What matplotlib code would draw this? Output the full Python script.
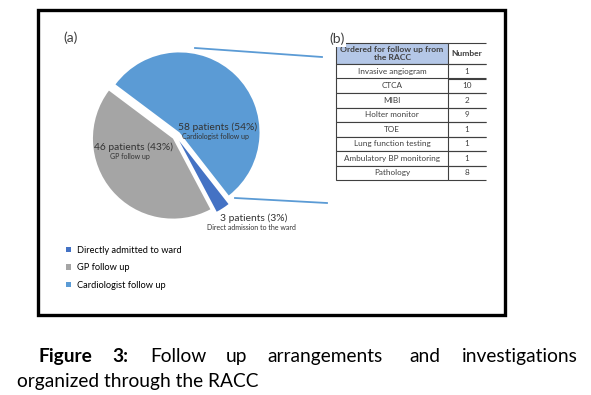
import matplotlib
matplotlib.use('Agg')
import matplotlib.pyplot as plt
from matplotlib.patches import Rectangle

plt.rcParams['font.family'] = ['Lato', 'DejaVu Sans']

# ---------------- data ----------------
legend_labels = ["Directly admitted to ward", "GP follow up", "Cardiologist follow up"]
patients = [3, 46, 58]
percent = [3, 43, 54]
slice_notes = ["Direct admission to the ward", "GP follow up", "Cardiologist follow up"]
slice_colors = ['#4472C4', '#A5A5A5', '#5B9BD5']

table_header = ["Ordered for follow up from\nthe RACC", "Number"]
tests = ["Invasive angiogram", "CTCA", "MIBI", "Holter monitor", "TOE",
         "Lung function testing", "Ambulatory BP monitoring", "Pathology"]
test_counts = [1, 10, 2, 9, 1, 1, 1, 8]

caption_line1 = [("Figure", 'bold'), ("3:", 'bold'), ("Follow", 'normal'), ("up", 'normal'),
                 ("arrangements", 'normal'), ("and", 'normal'), ("investigations", 'normal')]
caption_line2 = "organized through the RACC"

# ---------------- figure ----------------
W, H = 591, 395
fig = plt.figure(figsize=(W / 100, H / 100), dpi=100)
ax = fig.add_axes([0, 0, 1, 1])


def Y(y):
    return H - y


# pie (pixel-like data coordinates)
wedges, _ = ax.pie(patients, colors=slice_colors, startangle=-52, counterclock=False,
                   center=(176, Y(136)), radius=80, explode=[6, 4, 5],
                   wedgeprops=dict(linewidth=0), frame=True)
ax.set_xlim(0, W)
ax.set_ylim(0, H)
ax.set_aspect('equal')
ax.axis('off')

# outer frame
ax.add_patch(Rectangle((38, Y(315)), 505 - 38, 315 - 10, fill=False, lw=2.4,
                       ec='black', zorder=5))

ax.text(63, Y(38), "(a)", fontsize=10, color='#404040', va='center', ha='left')

# slice labels
label_pos = [(254, 218), (133, 147), (218, 127)]
for i, (lx, ly) in enumerate(label_pos):
    ax.text(lx, Y(ly), f"{patients[i]} patients ({percent[i]}%)", fontsize=7.4,
            color='#333333', ha='center', va='center')
    ax.text(lx - 3, Y(ly + 10), slice_notes[i], fontsize=5.0, color='#333333',
            ha='center', va='center')

# connector lines to table
line_c = '#5B9BD5'
ax.plot([195, 322], [Y(48), Y(57)], color=line_c, lw=1.3)
ax.plot([235, 327], [Y(198), Y(203)], color=line_c, lw=1.3)

# legend
leg = ax.legend(wedges, legend_labels, loc='upper left',
                bbox_to_anchor=(66, Y(246)), bbox_transform=ax.transData,
                frameon=False, fontsize=6.7, handlelength=0.5, handleheight=0.5,
                handletextpad=0.65, labelspacing=0.9, borderpad=0, borderaxespad=0)
for t in leg.get_texts():
    t.set_color('black')

# table
cell_text = [[t, str(c)] for t, c in zip(tests, test_counts)]
tab = ax.table(cellText=cell_text, colLabels=table_header, cellLoc='center',
               bbox=[336 / W, Y(180) / H, 150 / W, 137 / H])
tab.auto_set_font_size(False)
for (r, c), cell in tab.get_celld().items():
    cell.set_width(112 if c == 0 else 38)
    cell.set_height(21 if r == 0 else 14.5)
    cell.set_edgecolor('#404040')
    cell.set_linewidth(0.8)
    txt = cell.get_text()
    txt.set_color('#404040')
    if r == 0:
        cell.set_facecolor('#B4C7E7')
        txt.set_fontweight('bold')
        txt.set_fontsize(6.1)
        txt.set_linespacing(1.05)
    else:
        txt.set_fontsize(5.9)
    cell.visible_edges = 'closed' if c == 0 else 'BT'

ax.text(329, Y(39), "(b)", fontsize=10, color='#404040', va='center', ha='left',
        zorder=10, bbox=dict(facecolor='white', edgecolor='none', pad=1.0))

# caption
word_x = [39, 112, 150, 226, 267, 409, 462]
for (w, wt), x in zip(caption_line1, word_x):
    ax.text(x, Y(362), w, fontsize=13.8, fontweight=wt, color='black',
            ha='left', va='baseline')
ax.text(17, Y(387), caption_line2, fontsize=13.8, color='black', ha='left', va='baseline')

fig.savefig('out.png', dpi=100, facecolor='white')
